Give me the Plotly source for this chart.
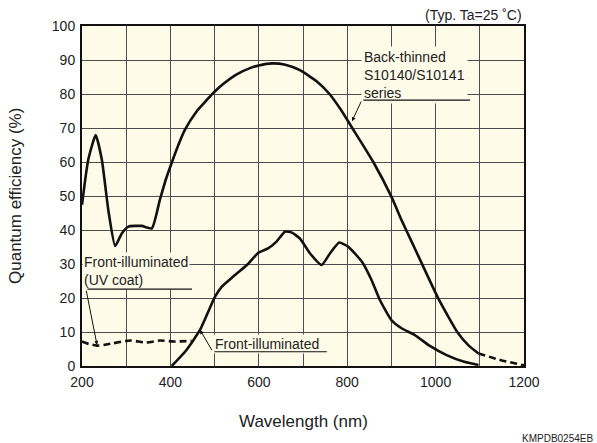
import plotly.graph_objects as go

# Back-thinned S10140/S10141 series (solid part, 200-1100 nm)
bt_wl = [200, 214, 231, 245, 259.5, 275, 290, 305, 335, 358, 376, 390, 403, 418, 433, 460, 480, 497, 520, 550, 580, 600, 630, 660, 693, 730, 760, 785, 810, 859, 900, 923, 946, 965, 1006, 1051, 1075, 1097]
bt_qe = [47.4, 60.6, 67.9, 60.6, 45.9, 35.3, 39, 41, 41.2, 40.5, 48.8, 55, 59.8, 65, 69.5, 75, 77.9, 80.3, 83, 85.8, 87.6, 88.4, 89, 88.6, 87, 83.8, 80, 75.5, 70.3, 60, 49.8, 42.9, 36.5, 31.2, 19.9, 9.6, 6, 3.7]
# Back-thinned dashed tail (1100-1200 nm)
bt_tail_wl = [1097, 1150, 1200]
bt_tail_qe = [3.7, 1.6, 0.2]

# Front-illuminated
fi_wl = [403, 435, 467, 501, 516, 542, 573, 599, 621, 640, 659, 674, 693, 716, 742, 761, 782, 802, 833, 855, 874, 900, 923, 953, 987, 1025, 1063, 1097]
fi_qe = [0, 4.5, 10.6, 20.4, 23.3, 26.3, 29.7, 33.3, 34.6, 36.6, 39.5, 39.3, 37.5, 33.1, 29.7, 33.1, 36.3, 35.1, 30.7, 25.3, 19.4, 13.5, 11.1, 9.1, 5.9, 3.2, 1.3, 0.3]

# Front-illuminated (UV coat), dashed
uv_wl = [200, 215, 233, 250, 271, 309, 346, 376, 407, 448]
uv_qe = [7.2, 6.5, 6.0, 6.2, 6.7, 7.5, 6.9, 7.5, 7.2, 7.4]

x_ticks = [200, 400, 600, 800, 1000, 1200]
y_ticks = [0, 10, 20, 30, 40, 50, 60, 70, 80, 90, 100]

BG = "#FEFBE9"
INK = "#111111"
TXT = "#222222"
FONT = "Liberation Sans, Arial, sans-serif"

fig = go.Figure()
fig.add_trace(go.Scatter(x=bt_wl, y=bt_qe, mode="lines",
                         line=dict(color=INK, width=2.6, shape="spline", smoothing=0.5)))
fig.add_trace(go.Scatter(x=bt_tail_wl, y=bt_tail_qe, mode="lines",
                         line=dict(color=INK, width=2.6, dash="7px,4px")))
fig.add_trace(go.Scatter(x=fi_wl, y=fi_qe, mode="lines",
                         line=dict(color=INK, width=2.6, shape="spline", smoothing=0.5)))
fig.add_trace(go.Scatter(x=uv_wl, y=uv_qe, mode="lines",
                         line=dict(color=INK, width=2.6, dash="7px,4px", shape="spline", smoothing=0.5)))

axis_common = dict(showgrid=True, gridcolor="#4d4d4d", gridwidth=1.2, zeroline=False,
                   showline=True, linecolor=INK, linewidth=2, mirror=True, automargin=False,
                   ticks="", ticklabelstandoff=2,
                   tickfont=dict(family=FONT, size=14, color=TXT))

fig.update_xaxes(range=[200, 1200], tickvals=x_ticks,
                 minor=dict(showgrid=True, gridcolor="#4d4d4d", gridwidth=1.2, dtick=100, tick0=200),
                 **axis_common)
fig.update_yaxes(range=[0, 100], tickvals=y_ticks, **axis_common)

ann_font = dict(family=FONT, size=14, color=TXT)
line_ann = dict(text="", axref="x", ayref="y", showarrow=True, arrowwidth=1.1, arrowcolor=INK)
annotations = [
    dict(text="(Typ. Ta=25 ˚C)", xref="paper", yref="paper", x=1.0, y=1.0, xanchor="right", yanchor="bottom",
         showarrow=False, font=ann_font, yshift=1),
    dict(text="Quantum efficiency (%)", xref="paper", yref="paper", x=0, y=0.5, xanchor="center", yanchor="middle",
         textangle=-90, xshift=-67, showarrow=False, font=dict(family=FONT, size=17, color=TXT)),
    dict(text="Wavelength (nm)", xref="paper", yref="paper", x=0.5, y=0, xanchor="center", yanchor="middle",
         yshift=-55, showarrow=False, font=dict(family=FONT, size=17, color=TXT)),
    dict(text="Back-thinned<br>S10140/S10141<br>series", x=831, y=85.7, xanchor="left", yanchor="middle",
         showarrow=False, font=ann_font, bgcolor=BG, align="left", borderpad=2),
    dict(text="Front-illuminated<br>(UV coat)", x=200, y=27.9, xanchor="left", yanchor="middle",
         showarrow=False, font=ann_font, bgcolor=BG, align="left", borderpad=1),
    dict(text="Front-illuminated", x=496, y=6.4, xanchor="left", yanchor="middle",
         showarrow=False, font=ann_font, bgcolor=BG, align="left", borderpad=1),
    # underlines (drawn above the label boxes)
    dict(line_ann, x=1078, y=78.2, ax=833, ay=78.2, arrowhead=0),
    dict(line_ann, x=449, y=22.6, ax=209, ay=22.6, arrowhead=0),
    dict(line_ann, x=754, y=4.2, ax=496, ay=4.2, arrowhead=0),
    # leader arrows
    dict(line_ann, x=811, y=72, ax=833, ay=78.2, arrowhead=2, arrowsize=0.8, arrowwidth=1),
    dict(line_ann, x=234, y=6.2, ax=209, ay=22.6, arrowhead=2, arrowsize=0.8, arrowwidth=1),
    dict(line_ann, x=467, y=10.6, ax=496, ay=4.2, arrowhead=2, arrowsize=0.8, arrowwidth=1),
    dict(text="KMPDB0254EB", xref="paper", yref="paper", x=1.0, y=0, xanchor="right", yanchor="middle",
         showarrow=False, font=dict(family=FONT, size=10, color=TXT), xshift=71, yshift=-72),
]
fig.update_layout(annotations=annotations)

fig.update_layout(width=597, height=443, margin=dict(l=82, r=73, t=26, b=77),
                  plot_bgcolor=BG, paper_bgcolor="white", showlegend=False,
                  font=dict(family=FONT))

fig.write_html("out.html", config={"displayModeBar": False},
               post_script="document.body.style.margin='0';")
